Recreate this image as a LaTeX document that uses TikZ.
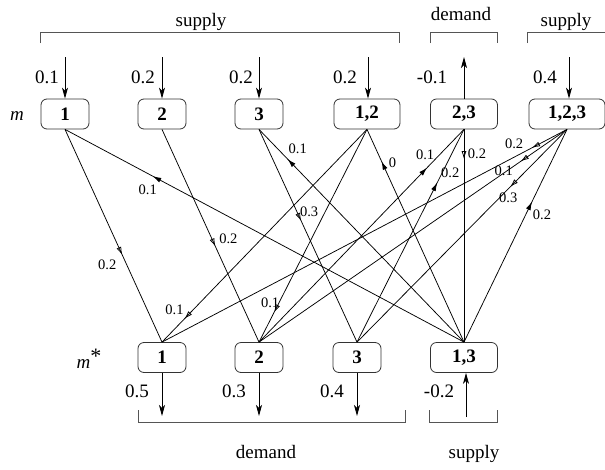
\documentclass[tikz,border=0pt]{standalone}
\usepackage{fontspec}
\setmainfont{Liberation Serif}
\usepackage{tikz}
\usetikzlibrary{arrows.meta, decorations.markings}
\definecolor{brackcolor}{HTML}{555555}
\definecolor{boxcolor}{HTML}{333333}

\tikzset{
  coal/.style={draw=boxcolor, rounded corners=6pt, minimum height=30pt, minimum width=48pt, inner sep=0pt, font=\bfseries\fontsize{19}{22}\selectfont, line width=0.8pt},
  flowin/.style={-{Stealth[length=11pt, width=6pt, inset=3pt]}, line width=0.8pt},
  tie/.style={line width=0.75pt},
  fwd/.style={tie, postaction={decorate}, decoration={markings, mark=at position #1 with {\arrow{Latex[open, length=8pt, width=5pt]}}}},
  bwd/.style={tie, postaction={decorate}, decoration={markings, mark=at position #1 with {\arrowreversed{Latex[length=8.5pt, width=5pt]}}}},
  wt/.style={font=\fontsize{14.5}{16}\selectfont, inner sep=0pt},
  brack/.style={brackcolor, line width=0.8pt},
}

\begin{document}
\begin{tikzpicture}[x=1pt, y=-1pt, font=\fontsize{19}{22}\selectfont]
    \useasboundingbox (0,0) rectangle (605,469);

    % Coalitions m (top) and m* (bottom)
    \node[coal] (t1) at (65,114) {1};
    \node[coal] (t2) at (162,114) {2};
    \node[coal] (t3) at (259,114) {3};
    \node[coal, minimum width=66pt] (t12) at (367,114) {1,2};
    \node[coal, minimum width=67pt] (t23) at (464,114) {2,3};
    \node[coal, minimum width=76pt] (t123) at (567,114) {1,2,3};

    \node[coal] (b1) at (162,357.5) {1};
    \node[coal] (b2) at (259,357.5) {2};
    \node[coal] (b3) at (357,357.5) {3};
    \node[coal, minimum width=67pt] (b13) at (464,357.5) {1,3};

    \node (mtop) at (17,116) {\textit{m}};
    \node (mbot) at (89,359) {\textit{m}\raisebox{5pt}{\fontsize{22}{22}\selectfont *}};

    % Brackets
    \draw[brack] (40,43) -- (40,32) -- (399,32) -- (399,43);
    \draw[brack] (430,43) -- (430,32) -- (497,32) -- (497,43);
    \draw[brack] (527,43) -- (527,32) -- (612,32) -- (612,43);
    \draw[brack] (138,410) -- (138,422) -- (405,422) -- (405,410);
    \draw[brack] (429,410) -- (429,422) -- (497,422) -- (497,410);

    \node[anchor=base] (sup1) at (201,26) {supply};
    \node[anchor=base] (dem1) at (461,20) {demand};
    \node[anchor=base] (sup2) at (566,26) {supply};
    \node[anchor=base] (dem2) at (266,458) {demand};
    \node[anchor=base] (sup3) at (474,458) {supply};

    % Supply and demand at the nodes
    \coordinate (in1) at (65,57);
    \coordinate (in2) at (162,57);
    \coordinate (in3) at (259,57);
    \coordinate (in12) at (368,57);
    \coordinate (in23) at (464,57);
    \coordinate (in123) at (569,57);
    \draw[flowin] (in1) -- (t1.north);
    \draw[flowin] (in2) -- (t2.north);
    \draw[flowin] (in3) -- (t3.north);
    \draw[flowin] (in12) -- (in12 |- t12.north);
    \draw[flowin] (t23.north) -- (in23);
    \draw[flowin] (in123) -- (in123 |- t123.north);
    \node (s1) at (47,77) {0.1};
    \node (s2) at (143,77) {0.2};
    \node (s3) at (241,77) {0.2};
    \node (s12) at (345,77) {0.2};
    \node (s23) at (432,77) {-0.1};
    \node (s123) at (545,77) {0.4};

    \coordinate (out1) at (162,416);
    \coordinate (out2) at (259,416);
    \coordinate (out3) at (357,416);
    \coordinate (out13) at (466,417);
    \draw[flowin] (b1.south) -- (out1);
    \draw[flowin] (b2.south) -- (out2);
    \draw[flowin] (b3.south) -- (out3);
    \draw[flowin] (out13) -- (out13 |- b13.south);
    \node (d1) at (137,391) {0.5};
    \node (d2) at (234,391) {0.3};
    \node (d3) at (332,391) {0.4};
    \node (d13) at (439,391) {-0.2};

    % Transfers
    \draw[fwd=0.59] (t1.south) -- (b1.north) node[wt, pos=0.59, xshift=-15pt, yshift=-10pt] {0.2};
    \draw[bwd=0.22] (t1.south) -- (b13.north) node[wt, pos=0.22, xshift=-5pt, yshift=-14pt] {0.1};
    \draw[fwd=0.55] (t2.south) -- (b2.north) node[wt, pos=0.55, xshift=13pt, yshift=8pt] {0.2};
    \draw[fwd=0.43] (t3.south) -- (b3.north) node[wt, pos=0.43, xshift=8pt, yshift=9pt] {0.3};
    \draw[bwd=0.14] (t3.south) -- (b13.north) node[wt, pos=0.14, xshift=10pt, yshift=10pt] {0.1};
    \draw[fwd=0.89] (t12.south) -- (b1.north) node[wt, pos=0.89, xshift=-10pt, yshift=9pt] {0.1};
    \draw[fwd=0.86] (t12.south) -- (b2.north) node[wt, pos=0.86, xshift=-4pt, yshift=10pt] {0.1};
    \draw[bwd=0.15] (t12.south) -- (b13.north) node[wt, pos=0.15, xshift=11pt, yshift=-1pt] {0};
    \draw[bwd=0.18] (t23.south) -- (b2.north) node[wt, pos=0.18, xshift=-2pt, yshift=13pt] {0.1};
    \draw[bwd=0.25] (t23.south) -- (b3.north) node[wt, pos=0.25, xshift=13pt, yshift=10pt] {0.2};
    \draw[fwd=0.14] (t23.south) -- (b13.north) node[wt, pos=0.14, xshift=13pt, yshift=5pt] {0.2};
    \draw[fwd=0.086] (t123.south) -- (b1.north) node[wt, pos=0.086, xshift=-18pt, yshift=4pt] {0.2};
    \draw[fwd=0.15] (t123.south) -- (b2.north) node[wt, pos=0.15, xshift=-17pt, yshift=-9pt] {0.1};
    \draw[fwd=0.27] (t123.south) -- (b3.north) node[wt, pos=0.27, xshift=-2pt, yshift=-11pt] {0.3};
    \draw[bwd=0.34] (t123.south) -- (b13.north) node[wt, pos=0.34, xshift=10pt, yshift=-13pt] {0.2};

\end{tikzpicture}
\end{document}
